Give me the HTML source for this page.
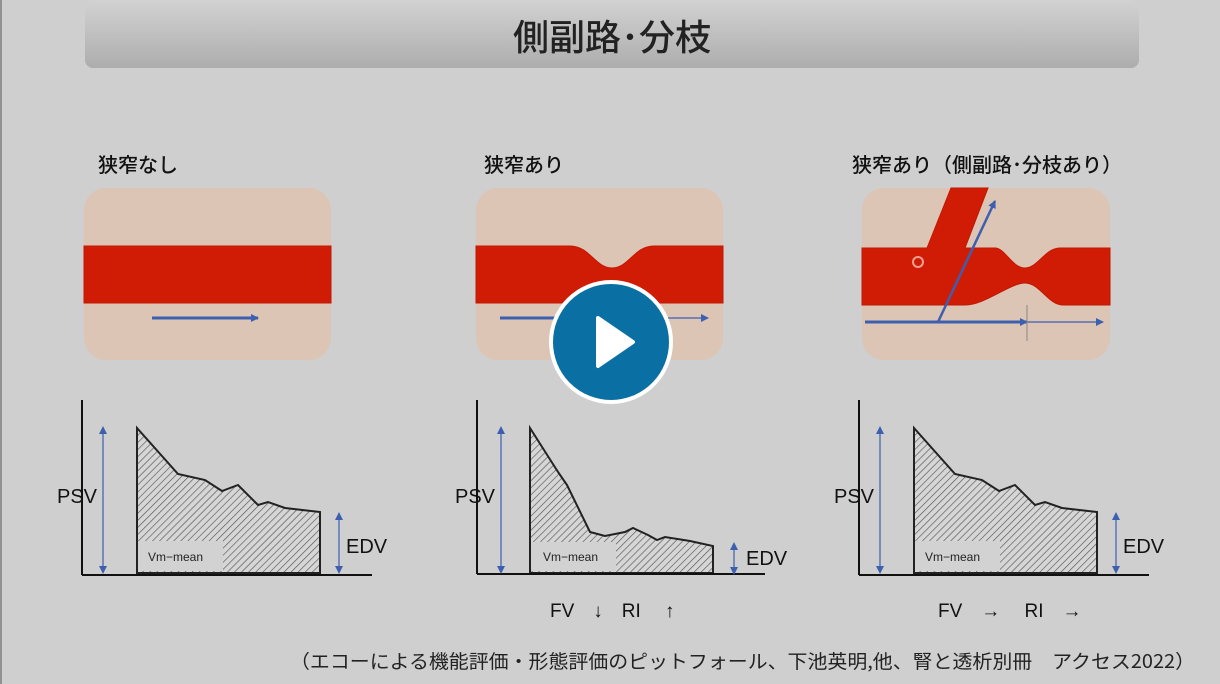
<!DOCTYPE html>
<html><head><meta charset="utf-8"><style>
body{margin:0;width:1220px;height:684px;background:#cfcfcf;overflow:hidden;font-family:"Liberation Sans","Noto Sans CJK JP",sans-serif}
</style></head><body>
<svg width="1220" height="684" viewBox="0 0 1220 684" xmlns="http://www.w3.org/2000/svg" style="position:absolute;left:0;top:0">
<defs>
<linearGradient id="hg" x1="0" y1="0" x2="0" y2="1"><stop offset="0" stop-color="#d2d2d2"/><stop offset="1" stop-color="#adadad"/></linearGradient>
<pattern id="h" width="5" height="5" patternUnits="userSpaceOnUse" patternTransform="rotate(45)"><rect width="5" height="5" fill="#d6d6d6"/><line x1="0" y1="0" x2="0" y2="5" stroke="#555" stroke-width="1.3"/></pattern>
<marker id="a" markerWidth="8" markerHeight="8" refX="7" refY="4" orient="auto" markerUnits="userSpaceOnUse"><path d="M0,0L8,4L0,8z" fill="#3d5fb0"/></marker>
<marker id="as" markerWidth="8" markerHeight="8" refX="4" refY="4" orient="auto-start-reverse" markerUnits="userSpaceOnUse"><path d="M0,0L8,4L0,8z" fill="#3d5fb0"/></marker>
</defs>
<line x1="1" y1="0" x2="1" y2="684" stroke="#555" stroke-width="1"/>
<rect x="85" y="0" width="1054" height="68" rx="8" fill="url(#hg)"/>
<text x="612" y="50" text-anchor="middle" font-size="36" font-weight="500" fill="#222" font-family="Noto Sans CJK JP,sans-serif">側副路･分枝</text>
<g font-size="20" fill="#111" font-family="Noto Sans CJK JP,sans-serif" font-weight="500">
<text x="98" y="172">狭窄なし</text><text x="484" y="172">狭窄あり</text><text x="852" y="172">狭窄あり（側副路･分枝あり）</text></g>
<rect x="84" y="188" width="247" height="172" rx="22" fill="#dcc5b4"/>
<rect x="84" y="246" width="247" height="57" fill="#d01c05" stroke="#c21703"/>
<line x1="152" y1="318" x2="258" y2="318" stroke="#3d5fb0" stroke-width="3" marker-end="url(#a)"/>
<rect x="476" y="188" width="247" height="172" rx="22" fill="#dcc5b4"/>
<path d="M476,246 L570,246 C590,246 595,268 612,268 C629,268 634,246 654,246 L723,246 L723,303 L654,303 C634,303 629,283 612,283 C595,283 590,303 570,303 L476,303Z" fill="#d01c05" stroke="#c21703"/>
<line x1="500" y1="318" x2="610" y2="318" stroke="#3d5fb0" stroke-width="3"/>
<line x1="610" y1="318" x2="708" y2="318" stroke="#3d5fb0" stroke-width="1.3" marker-end="url(#a)"/>
<rect x="862" y="188" width="248" height="172" rx="22" fill="#dcc5b4"/>
<path d="M862,248 L927,248 L951,188 L988,188 L965,248 L995,248 C1005,248 1012,268 1025,268 C1038,268 1045,248 1060,248 L1110,248 L1110,305 L1063,305 C1048,305 1040,283 1025,283 C1010,283 985,305 965,305 L862,305Z" fill="#d01c05" stroke="#c21703"/>
<circle cx="918" cy="262" r="5" fill="none" stroke="#f3a090" stroke-width="2"/>
<line x1="865" y1="322" x2="1027" y2="322" stroke="#3d5fb0" stroke-width="3" marker-end="url(#a)"/>
<line x1="1027" y1="322" x2="1103" y2="322" stroke="#3d5fb0" stroke-width="1.3" marker-end="url(#a)"/>
<line x1="1027" y1="305" x2="1027" y2="341" stroke="#888" stroke-width="1"/>
<line x1="938" y1="322" x2="995" y2="201" stroke="#3d5fb0" stroke-width="2.5" marker-end="url(#a)"/>
<g id="g1">
<path d="M137,428 L178,474 L205,480 L222,491 L238,485 L258,505 L268,502 L285,508 L320,512 L320,573 L137,573Z" fill="url(#h)" stroke="#222" stroke-width="2"/>
<rect x="138" y="541" width="85" height="30" fill="#d2d2d2"/>
<text x="148" y="561" font-size="12" fill="#222">Vm−mean</text>
<line x1="82" y1="400" x2="82" y2="575" stroke="#111" stroke-width="2"/>
<line x1="82" y1="575" x2="372" y2="575" stroke="#111" stroke-width="2"/>
<line x1="103" y1="430" x2="103" y2="570" stroke="#3d5fb0" stroke-width="1.2" marker-start="url(#as)" marker-end="url(#as)"/>
<line x1="339" y1="516" x2="339" y2="570" stroke="#3d5fb0" stroke-width="1.2" marker-start="url(#as)" marker-end="url(#as)"/>
<text x="57" y="503" font-size="20" fill="#111">PSV</text>
<text x="346" y="553" font-size="20" fill="#111">EDV</text>
</g>
<use href="#g1" x="777" y="0"/>
<g>
<path d="M530,428 L558,472 L567,485 L590,532 L605,536 L625,532 L633,528 L648,535 L657,540 L665,537 L690,541 L713,546 L713,573 L530,573Z" fill="url(#h)" stroke="#222" stroke-width="2"/>
<rect x="531" y="542" width="85" height="29" fill="#d2d2d2"/>
<text x="543" y="561" font-size="12" fill="#222">Vm−mean</text>
<line x1="477" y1="400" x2="477" y2="574" stroke="#111" stroke-width="2"/>
<line x1="477" y1="574" x2="765" y2="574" stroke="#111" stroke-width="2"/>
<line x1="501" y1="430" x2="501" y2="570" stroke="#3d5fb0" stroke-width="1.2" marker-start="url(#as)" marker-end="url(#as)"/>
<line x1="734" y1="546" x2="734" y2="571" stroke="#3d5fb0" stroke-width="1.2" marker-start="url(#as)" marker-end="url(#as)"/>
<text x="455" y="503" font-size="20" fill="#111">PSV</text>
<text x="746" y="565" font-size="20" fill="#111">EDV</text>
</g>
<text x="550" y="617" font-size="19" fill="#111">FV　↓　RI　 ↑</text>
<text x="938" y="617" font-size="19" fill="#111">FV　→　 RI　→</text>
<text x="290" y="668" font-size="19" fill="#222" textLength="905" lengthAdjust="spacingAndGlyphs" font-family="Noto Sans CJK JP,sans-serif">（エコーによる機能評価・形態評価のピットフォール、下池英明,他、腎と透析別冊　アクセス2022）</text>
<circle cx="611" cy="342" r="60" fill="#0a70a3" stroke="#fff" stroke-width="4"/>
<path d="M598,318 L633,342 L598,366Z" fill="#fff" stroke="#fff" stroke-width="4" stroke-linejoin="round"/>
</svg>
</body></html>
